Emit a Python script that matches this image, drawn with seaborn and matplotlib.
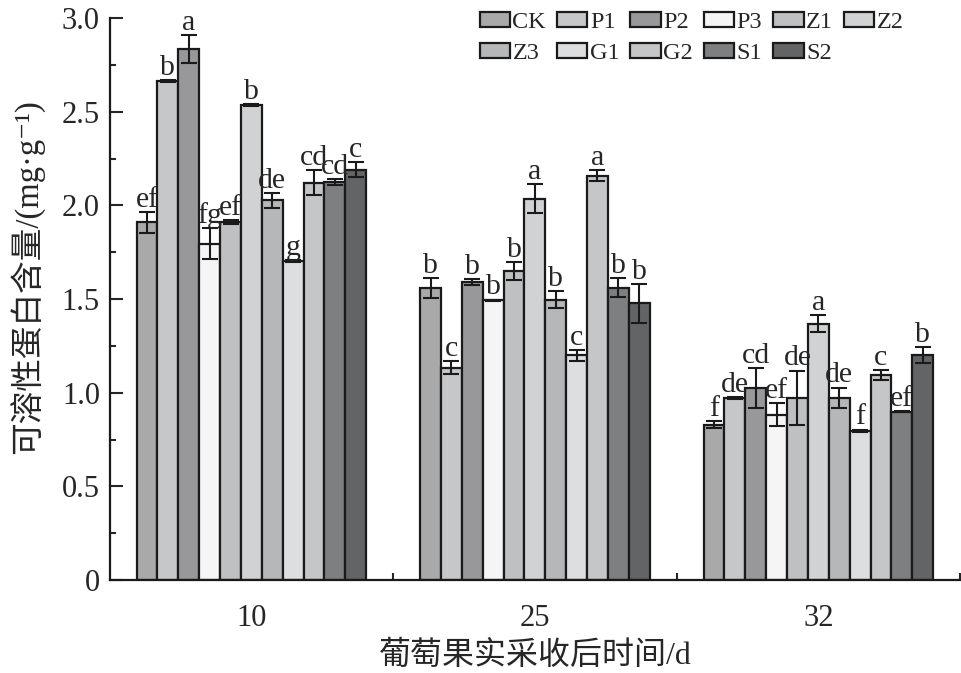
import matplotlib
matplotlib.use("Agg")
import matplotlib.pyplot as plt
import seaborn as sns
import pandas as pd
from matplotlib.ticker import MultipleLocator, FixedLocator

days = ["10", "25", "32"]
treatments = ["CK", "P1", "P2", "P3", "Z1", "Z2", "Z3", "G1", "G2", "S1", "S2"]

# mean values per treatment, one entry per day (10, 25, 32)
means = {
    "CK": [1.91, 1.56, 0.83],
    "P1": [2.665, 1.135, 0.97],
    "P2": [2.835, 1.593, 1.027],
    "P3": [1.795, 1.493, 0.884],
    "Z1": [1.913, 1.65, 0.973],
    "Z2": [2.537, 2.037, 1.368],
    "Z3": [2.028, 1.498, 0.973],
    "G1": [1.703, 1.20, 0.797],
    "G2": [2.122, 2.16, 1.096],
    "S1": [2.126, 1.562, 0.90],
    "S2": [2.19, 1.477, 1.203],
}
errors = {
    "CK": [0.055, 0.053, 0.018],
    "P1": [0.005, 0.035, 0.005],
    "P2": [0.075, 0.015, 0.106],
    "P3": [0.083, 0.005, 0.062],
    "Z1": [0.01, 0.05, 0.146],
    "Z2": [0.005, 0.077, 0.045],
    "Z3": [0.041, 0.046, 0.055],
    "G1": [0.005, 0.03, 0.007],
    "G2": [0.067, 0.03, 0.028],
    "S1": [0.014, 0.053, 0.005],
    "S2": [0.04, 0.104, 0.043],
}
letters = {
    "CK": ["ef", "b", "f"],
    "P1": ["b", "c", "de"],
    "P2": ["a", "b", "cd"],
    "P3": ["fg", "b", "ef"],
    "Z1": ["ef", "b", "de"],
    "Z2": ["b", "a", "a"],
    "Z3": ["de", "b", "de"],
    "G1": ["g", "c", "f"],
    "G2": ["cd", "a", "c"],
    "S1": ["cd", "b", "ef"],
    "S2": ["c", "b", "b"],
}
colors = ["#a9a9a9", "#c6c7c9", "#97989b", "#f5f5f5", "#bfc0c2", "#d1d2d4",
          "#b6b7b9", "#dddee0", "#c5c6c8", "#7e7f81", "#636466"]

rows = []
for t in treatments:
    for d, v in zip(days, means[t]):
        rows.append({"day": d, "trt": t, "value": v})
df = pd.DataFrame(rows)

sns.set_style("ticks")
plt.rcParams["font.family"] = ["Liberation Serif", "Noto Sans CJK SC", "DejaVu Sans"]

fig = plt.figure(figsize=(9.62, 6.73), dpi=100)
ax = fig.add_axes([0.114, 0.138, 0.884, 0.835])

sns.barplot(
    data=df,
    x="day",
    y="value",
    hue="trt",
    hue_order=treatments,
    order=days,
    palette=colors,
    errorbar=None,
    width=0.81,
    edgecolor="#1a1a1a",
    linewidth=1.6,
    legend=False,
    ax=ax
)

for i, t in enumerate(treatments):
    for j, bar in enumerate(ax.containers[i]):
        x = bar.get_x() + bar.get_width() / 2
        y = bar.get_height()
        e = errors[t][j]
        ax.errorbar(x, y, yerr=e, fmt="none", ecolor="#1a1a1a",
                    elinewidth=1.5, capsize=5.5, capthick=1.5)
        ax.text(x, y + e - 0.005, letters[t][j], ha="center", va="bottom",
                fontsize=21.5, family="Liberation Serif")

ax.set_ylim(0, 3.0)
ax.set_xlim(-0.5, 2.5)
ax.yaxis.set_major_locator(MultipleLocator(0.5))
ax.yaxis.set_minor_locator(MultipleLocator(0.25))
ax.set_yticks([0, 0.5, 1.0, 1.5, 2.0, 2.5, 3.0])
ax.set_yticklabels(["0", "0.5", "1.0", "1.5", "2.0", "2.5", "3.0"])
ax.xaxis.set_minor_locator(FixedLocator([0.5, 1.5, 2.5]))

ax.tick_params(axis="y", which="major", direction="in", length=9,
               width=1.5, labelsize=22, pad=7)
ax.tick_params(axis="y", which="minor", direction="in", length=4.5, width=1.5)
ax.tick_params(axis="x", which="major", length=0, labelsize=22, pad=17)
ax.tick_params(axis="x", which="minor", direction="in", length=5, width=1.5)

for side in ["top", "right"]:
    ax.spines[side].set_visible(False)
for side in ["left", "bottom"]:
    ax.spines[side].set_linewidth(1.6)
    ax.spines[side].set_color("#1a1a1a")

ax.set_xlabel("葡萄果实采收后时间/d", fontsize=23)
ax.set_ylabel("可溶性蛋白含量/(mg·g⁻¹)", fontsize=23.5)
ax.xaxis.set_label_coords(0.5, -0.108)
ax.yaxis.set_label_coords(-0.076, 0.54)

# legend laid out row by row (matplotlib fills columns first)
handles = [ax.containers[i].patches[0] for i in range(len(treatments))]
order = [0, 6, 1, 7, 2, 8, 3, 9, 4, 10, 5]
ax.legend(
    [handles[k] for k in order],
    [treatments[k] for k in order],
    ncol=6,
    loc="upper left",
    bbox_to_anchor=(0.486, 1.0),
    bbox_transform=fig.transFigure,
    frameon=False,
    fontsize=17.5,
    handlelength=1.25,
    handleheight=0.55,
    handletextpad=0.1,
    columnspacing=0.45,
    labelspacing=0.4,
    borderaxespad=0.1
)

fig.savefig("out.png", dpi=100)
